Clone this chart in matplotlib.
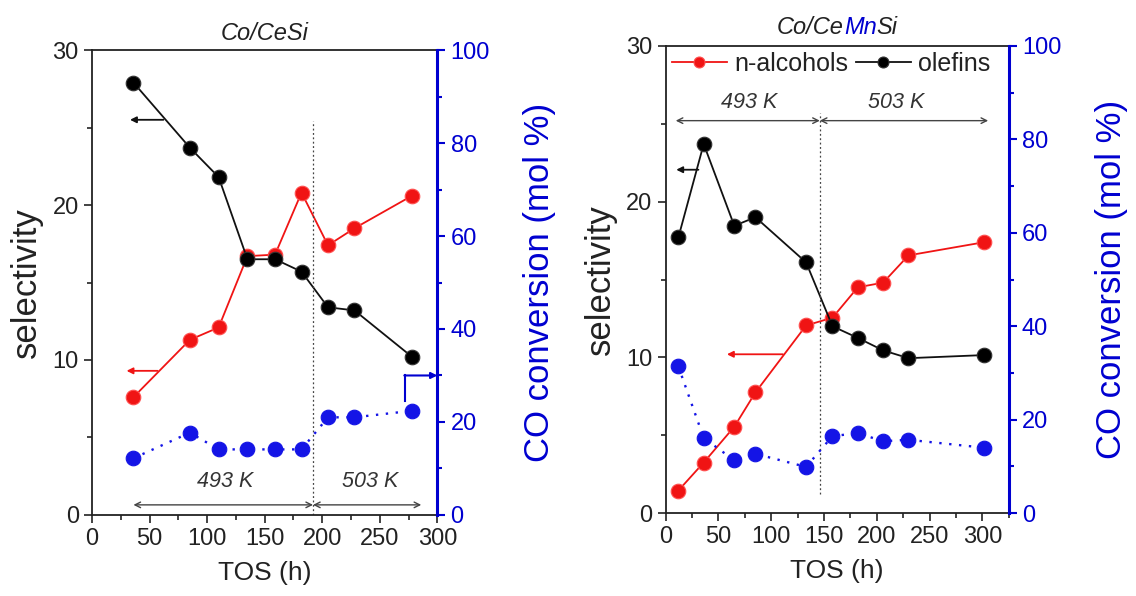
import matplotlib
matplotlib.use("Agg")
import matplotlib.pyplot as plt
from matplotlib.ticker import MultipleLocator
from matplotlib.offsetbox import TextArea, HPacker, AnchoredOffsetbox

plt.rcParams['font.family'] = ['Liberation Sans', 'DejaVu Sans']

# ---- data: Co/CeSi ----
tos_a = [36, 85, 110, 135, 159, 182, 205, 228, 278]
olef_a = [27.9, 23.7, 21.8, 16.5, 16.5, 15.7, 13.4, 13.2, 10.2]
alc_a = [7.6, 11.3, 12.1, 16.7, 16.8, 20.8, 17.4, 18.5, 20.6]
conv_a = [12.2, 17.7, 14.1, 14.1, 14.1, 14.1, 21.0, 21.0, 22.4]
switch_a = 192

# ---- data: Co/CeMnSi ----
tos_b = [12, 36, 65, 85, 133, 158, 182, 206, 230, 302]
olef_b = [17.7, 23.7, 18.45, 19.0, 16.1, 12.0, 11.25, 10.45, 9.95, 10.15]
alc_b = [1.45, 3.25, 5.55, 7.75, 12.05, 12.55, 14.5, 14.8, 16.55, 17.4]
conv_b = [31.4, 16.1, 11.3, 12.7, 9.9, 16.5, 17.1, 15.4, 15.7, 14.0]
switch_b = 146

RED = '#f01414'
BLUE = '#1414e6'
AXBLUE = '#0000d0'

fig = plt.figure(figsize=(11.36, 5.96), dpi=100)
axA = fig.add_axes([0.081, 0.136, 0.304, 0.780])
axB = fig.add_axes([0.586, 0.139, 0.302, 0.784])


def style_axes(ax, xmax):
    ax.set_xlim(0, xmax)
    ax.set_ylim(0, 30)
    ax.xaxis.set_major_locator(MultipleLocator(50))
    ax.xaxis.set_minor_locator(MultipleLocator(25))
    ax.yaxis.set_major_locator(MultipleLocator(10))
    ax.yaxis.set_minor_locator(MultipleLocator(5))
    ax.tick_params(which='both', direction='out', top=False, right=False,
                   labelsize=17, colors='#222222', width=1.2)
    ax.tick_params(which='major', length=6)
    ax.tick_params(which='minor', length=3.5)
    for s in ax.spines.values():
        s.set_linewidth(1.3)
        s.set_color('#222222')
    ax.set_xlabel('TOS (h)', fontsize=19, color='#222222', labelpad=8)
    ax.set_ylabel('selectivity', fontsize=25, color='#222222', labelpad=7)
    ax2 = ax.twinx()
    ax2.set_ylim(0, 100)
    ax2.yaxis.set_major_locator(MultipleLocator(20))
    ax2.yaxis.set_minor_locator(MultipleLocator(10))
    ax2.tick_params(which='both', direction='out', colors=AXBLUE,
                    labelsize=17, width=1.5)
    ax2.tick_params(which='major', length=6)
    ax2.tick_params(which='minor', length=3.5)
    ax2.spines['right'].set_color(AXBLUE)
    ax2.spines['right'].set_linewidth(2.2)
    for k in ('left', 'top', 'bottom'):
        ax2.spines[k].set_visible(False)
    ax2.set_ylabel('CO conversion (mol %)', fontsize=25, color=AXBLUE, labelpad=24)
    return ax2


mk = dict(marker='o', markersize=10.5, markeredgewidth=0.8)

# ---------------- panel A ----------------
axA2 = style_axes(axA, 300)
axA.plot(tos_a, alc_a, color=RED, lw=1.3, mfc=RED, mec='#ff5050', **mk)
axA.plot(tos_a, olef_a, color='#111111', lw=1.3, mfc='black', mec='#333333', **mk)
axA2.plot(tos_a, conv_a, color=BLUE, lw=1.7, ls=(0, (1, 3.2)), mfc=BLUE, mec=BLUE, **mk)
axA.plot([switch_a, switch_a], [0, 25.4], color='#444444', lw=0.9, ls=(0, (1.5, 2)))

arw = dict(arrowstyle='<->', color='#444444', lw=1.0, shrinkA=0, shrinkB=0,
           mutation_scale=10)
axA.annotate('', xy=(switch_a, 0.65), xytext=(36, 0.65), arrowprops=arw)
axA.annotate('', xy=(286, 0.65), xytext=(switch_a, 0.65), arrowprops=arw)
axA.text(116, 1.8, '493 K', fontsize=15.5, style='italic', color='#333333', ha='center')
axA.text(242, 1.8, '503 K', fontsize=15.5, style='italic', color='#333333', ha='center')

axA.annotate('', xy=(33, 25.5), xytext=(62, 25.5),
             arrowprops=dict(arrowstyle='-|>', color='#111111', lw=1.3,
                             shrinkA=0, shrinkB=0, mutation_scale=9))
axA.annotate('', xy=(30, 9.3), xytext=(57, 9.3),
             arrowprops=dict(arrowstyle='-|>', color=RED, lw=1.3,
                             shrinkA=0, shrinkB=0, mutation_scale=9))
axA2.plot([272, 272], [24.5, 30], color=AXBLUE, lw=1.5)
axA2.annotate('', xy=(300, 30), xytext=(271.3, 30),
              arrowprops=dict(arrowstyle='-|>', color=AXBLUE, lw=1.5,
                              shrinkA=0, shrinkB=0, mutation_scale=9))

axA.set_title('Co/CeSi', fontsize=17, style='italic', color='#222222', pad=7)

# ---------------- panel B ----------------
axB2 = style_axes(axB, 325)
axB.plot(tos_b, alc_b, color=RED, lw=1.3, mfc=RED, mec='#ff5050', label='n-alcohols', **mk)
axB.plot(tos_b, olef_b, color='#111111', lw=1.3, mfc='black', mec='#333333', label='olefins', **mk)
axB2.plot(tos_b, conv_b, color=BLUE, lw=1.7, ls=(0, (1, 3.2)), mfc=BLUE, mec=BLUE, **mk)
axB.plot([switch_b, switch_b], [1.2, 25.7], color='#444444', lw=0.9, ls=(0, (1.5, 2)))

axB.annotate('', xy=(switch_b, 25.2), xytext=(9.5, 25.2), arrowprops=arw)
axB.annotate('', xy=(305.5, 25.2), xytext=(switch_b, 25.2), arrowprops=arw)
axB.text(79, 26.0, '493 K', fontsize=15.5, style='italic', color='#333333', ha='center')
axB.text(218, 26.0, '503 K', fontsize=15.5, style='italic', color='#333333', ha='center')

axB.annotate('', xy=(10, 22.05), xytext=(31, 22.05),
             arrowprops=dict(arrowstyle='-|>', color='#111111', lw=1.3,
                             shrinkA=0, shrinkB=0, mutation_scale=9))
axB.annotate('', xy=(58, 10.2), xytext=(111, 10.2),
             arrowprops=dict(arrowstyle='-|>', color=RED, lw=1.3,
                             shrinkA=0, shrinkB=0, mutation_scale=9))

leg = axB.legend(loc='upper left', ncol=2, frameon=False, fontsize=18,
                 handlelength=2.2, handletextpad=0.3, columnspacing=0.3,
                 borderaxespad=0.05, borderpad=0.2, markerscale=0.75)
for t in leg.get_texts():
    t.set_color('#222222')

tp = dict(fontsize=17, style='italic', color='#222222')
parts = [TextArea('Co/Ce', textprops=tp),
         TextArea('Mn', textprops=dict(tp, color=AXBLUE)),
         TextArea('Si', textprops=tp)]
box = HPacker(children=parts, align='baseline', pad=0, sep=0)
anch = AnchoredOffsetbox(loc='lower center', child=box, pad=0, borderpad=0,
                         frameon=False, bbox_to_anchor=(0.5, 1.015),
                         bbox_transform=axB.transAxes)
axB.add_artist(anch)

fig.savefig('out.png', dpi=100)
